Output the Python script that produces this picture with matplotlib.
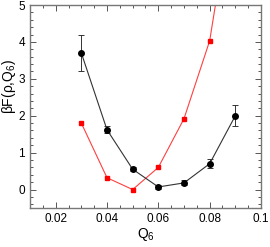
import matplotlib
matplotlib.use("Agg")
import matplotlib.pyplot as plt
from matplotlib.ticker import MultipleLocator

q6_black = [0.03, 0.04, 0.05, 0.06, 0.07, 0.08, 0.09]
f_black = [3.70, 1.62, 0.55, 0.07, 0.18, 0.70, 2.00]
err_black = [0.48, 0.10, 0.06, 0.05, 0.07, 0.12, 0.28]

q6_red = [0.03, 0.04, 0.05, 0.06, 0.07, 0.08, 0.09]
f_red = [1.80, 0.32, 0.00, 0.60, 1.92, 4.03, 8.35]

xticks = [0.02, 0.04, 0.06, 0.08, 0.1]
xticklabels = ["0.02", "0.04", "0.06", "0.08", "0.1"]
yticks = [0, 1, 2, 3, 4, 5]

plt.rcParams['font.family'] = ['Liberation Sans', 'DejaVu Sans']
plt.rcParams['mathtext.fontset'] = 'custom'
plt.rcParams['mathtext.rm'] = 'Liberation Sans'
plt.rcParams['mathtext.it'] = 'Liberation Sans'
fig = plt.figure(figsize=(2.70, 2.47), dpi=100)
ax = fig.add_axes([30/270, 1-208/247, 231/270, 203/247])

ax.plot(q6_red, f_red, '-', color='#ff4040', lw=0.8, marker='s', ms=3.5,
        mfc='red', mec='red', zorder=2)
ax.errorbar(q6_black, f_black, yerr=err_black, fmt='-o', color='#333333', lw=0.8,
            ms=4, mfc='black', mec='black', ecolor='#333333', elinewidth=0.7,
            capsize=2.5, capthick=0.7, zorder=3)

ax.set_xlim(0.01, 0.1)
ax.set_ylim(-0.5, 5)
ax.set_xticks(xticks)
ax.set_xticklabels(xticklabels)
ax.set_yticks(yticks)
ax.xaxis.set_minor_locator(MultipleLocator(0.005))
ax.yaxis.set_minor_locator(MultipleLocator(0.2))
ax.tick_params(which='both', direction='in', top=True, right=True, labelsize=8.5,
               color='#555555', width=0.7)
ax.tick_params(which='major', length=4)
ax.tick_params(which='minor', length=2)
for s in ax.spines.values():
    s.set_color('#777777')
    s.set_linewidth(1.0)

ax.set_xlabel('Q$_6$', fontsize=10, labelpad=1)
ax.set_ylabel('βF(ρ,Q$_6$)', fontsize=10)
ax.yaxis.set_label_coords(-0.05, 0.6)

fig.savefig('out.png', dpi=100)
